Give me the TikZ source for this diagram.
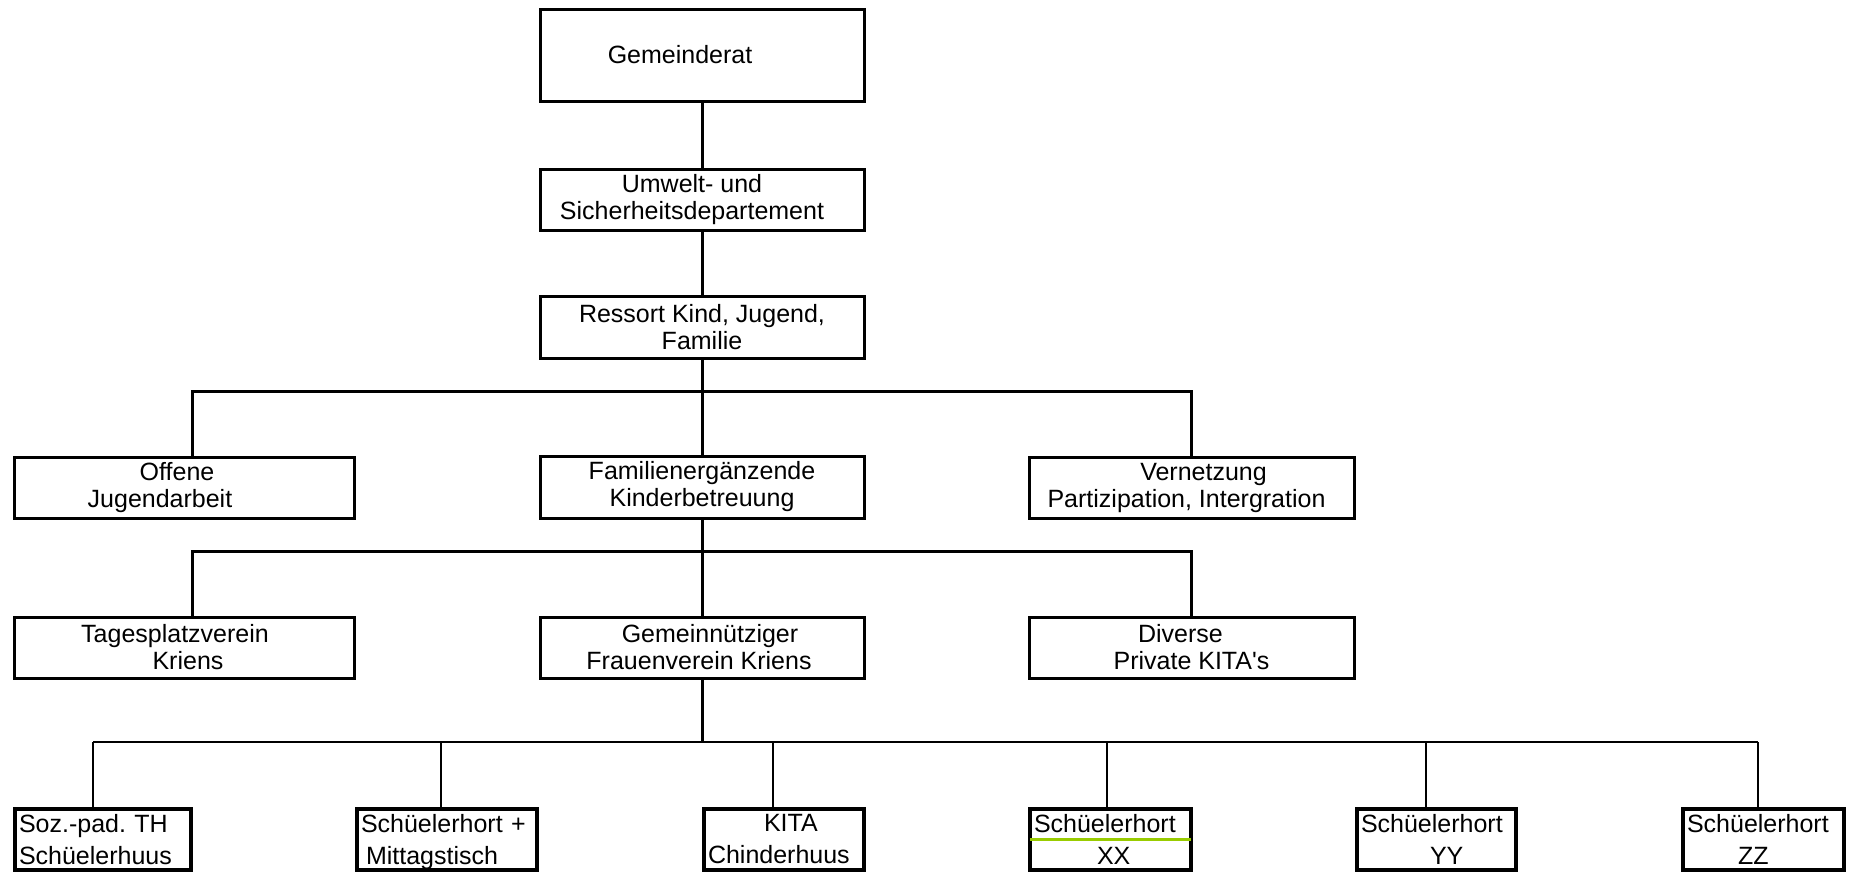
\documentclass[tikz,border=0pt]{standalone}
\usepackage{fontspec}
\setmainfont{Liberation Sans}[Ligatures=TeXOff]
\definecolor{hortgreen}{RGB}{153,204,0}
\begin{document}
\frenchspacing
\begin{tikzpicture}[x=1pt,y=-1pt,
  box/.style={draw,line width=3pt,inner sep=0pt,align=center,minimum width=324pt,font=\fontsize{25}{27}\selectfont},
  leaf/.style={draw,line width=3.5pt,inner xsep=4pt,inner ysep=0pt,minimum height=61pt,align=left,font=\fontsize{25}{32}\selectfont},
  conn/.style={line width=3pt},
  busline/.style={line width=2pt},
  mark line/.style={draw=hortgreen,line width=2.5pt,shorten <=2pt,shorten >=2pt}]
\useasboundingbox (0,0) rectangle (1851,871);

% top column
\node[box,minimum height=92pt] (g) at (702,55) {Gemeinderat\hspace*{44pt}};
\node[box,minimum height=61pt] (u) at (702,199.5) {Umwelt- und\hspace*{20pt}\\Sicherheitsdepartement\hspace*{20pt}};
\node[box,minimum height=62pt] (r) at (702,327) {Ressort Kind, Jugend,\\Familie};

% second row
\node[box,minimum width=340pt,minimum height=61pt] (o) at (184,487.5) {Offene\hspace*{14pt}\\Jugendarbeit\hspace*{48pt}};
\node[box,minimum height=62pt] (f) at (702,487) {Familienergänzende\\Kinderbetreuung};
\node[box,minimum width=325pt,minimum height=61pt] (v) at (1191.5,487.5) {\hspace*{24pt}Vernetzung\\Partizipation, Intergration\hspace*{10pt}};

% third row
\node[box,minimum width=340pt,minimum height=61pt] (t) at (184,647.5) {Tagesplatzverein\hspace*{18pt}\\\hspace*{8pt}Kriens};
\node[box,minimum height=61pt] (gm) at (702,647.5) {\hspace*{16pt}Gemeinnütziger\\Frauenverein Kriens\hspace*{6pt}};
\node[box,minimum width=325pt,minimum height=61pt] (d) at (1191.5,647.5) {Diverse\hspace*{22pt}\\Private KITA's};

% bottom row
\node[leaf,text width=168pt] (soz) at (103,839.5) {Soz.-pad. TH\\Schüelerhuus};
\node[leaf,text width=172pt] (schm) at (447,839.5) {Schüelerhort +\\\hspace*{5pt}\smash{Mittagstisch}};
\node[leaf,text width=152pt] (kita) at (784,839.5) {\hspace*{56pt}KITA\\Chinderhuus};
\node[leaf,text width=153pt] (xx) at (1110.5,839.5) {Schüelerhort\\\hspace*{63pt}XX};
\node[leaf,text width=151pt] (yy) at (1436.5,839.5) {Schüelerhort\\\hspace*{69pt}YY};
\node[leaf,text width=153pt] (zz) at (1763.5,839.5) {Schüelerhort\\\hspace*{51pt}ZZ};

% connectors
\draw[conn] (g) -- (u);
\draw[conn] (u) -- (r);
\draw[conn] (r) -- (f);
\coordinate (b1) at (702,391);
\coordinate (c1) at (192,391);
\draw[conn] (c1 |- o.north) |- (b1) -| (v.north);
\draw[conn] (f) -- (gm);
\coordinate (b2) at (702,551);
\coordinate (c2) at (192,551);
\draw[conn] (c2 |- t.north) |- (b2) -| (d.north);
\coordinate (b3) at (702,742);
\draw[conn] (gm) -- (b3);

\coordinate (t1) at (93,742);
\coordinate (t2) at (441,742);
\coordinate (t3) at (773,742);
\coordinate (t4) at (1107,742);
\coordinate (t5) at (1426,742);
\coordinate (t6) at (1758,742);
\draw[busline] (t1) -- (t6);
\draw[busline] (t1) -- (t1 |- soz.north);
\draw[busline] (t2) -- (t2 |- schm.north);
\draw[busline] (t3) -- (t3 |- kita.north);
\draw[busline] (t4) -- (t4 |- xx.north);
\draw[busline] (t5) -- (t5 |- yy.north);
\draw[busline] (t6) -- (t6 |- zz.north);

% green rule inside XX
\path[mark line] (xx.west) -- (xx.east);
\end{tikzpicture}
\end{document}
